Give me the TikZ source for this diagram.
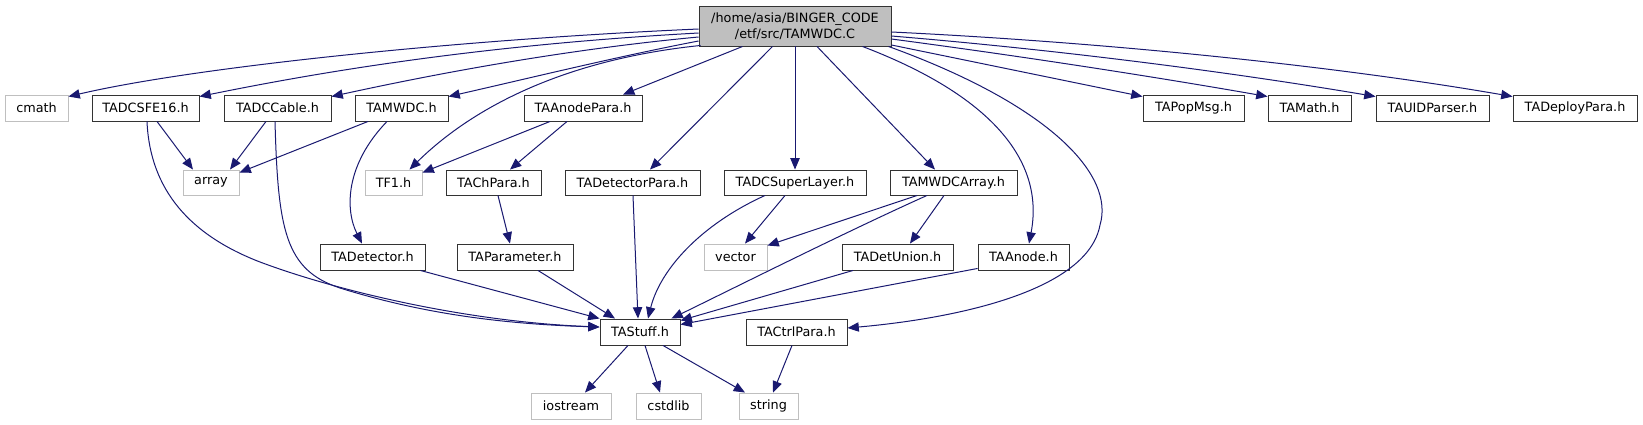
\documentclass[tikz,border=0pt]{standalone}
\usepackage{fontspec}
\setmainfont{DejaVu Sans}
\usetikzlibrary{arrows.meta,calc}
\definecolor{edgec}{HTML}{191970}
\definecolor{mainfill}{HTML}{BFBFBF}
\definecolor{lgray}{HTML}{BFBFBF}
\definecolor{bord}{HTML}{333333}
\begin{document}
\begin{tikzpicture}[x=0.75pt,y=-0.75pt,
  bx/.style n args={4}{inner sep=0pt,
    minimum width={(#3-#1)*0.75pt}, minimum height={(#4-#2)*0.75pt},
    at={({(#1+#3)/2},{(#2+#4)/2})}},
  hbox/.style={draw=bord, line width=0.7pt, fill=white, font=\fontsize{9.6}{12}\selectfont},
  gbox/.style={draw=lgray, line width=0.7pt, fill=white, font=\fontsize{9.6}{12}\selectfont},
  dep/.style={draw=edgec, line width=0.75pt, -{Triangle[length=8.5pt,width=7pt]}}
]
\useasboundingbox (0,0) rectangle (1643,425);

% nodes
\node[hbox, fill=mainfill, align=center, bx={699}{6}{891}{46}] (main) {/home/asia/BINGER\_CODE\\/etf/src/TAMWDC.C};
\node[gbox, bx={5}{95}{68}{121}] (cmath) {cmath};
\node[hbox, bx={92}{95}{199}{121}] (sfe) {TADCSFE16.h};
\node[hbox, bx={224}{95}{331}{121}] (cable) {TADCCable.h};
\node[hbox, bx={355}{95}{448}{121}] (mwdc) {TAMWDC.h};
\node[hbox, bx={524}{95}{642}{121}] (anodepara) {TAAnodePara.h};
\node[hbox, bx={1143}{95}{1244}{121}] (popmsg) {TAPopMsg.h};
\node[hbox, bx={1268}{95}{1351}{121}] (tamath) {TAMath.h};
\node[hbox, bx={1376}{95}{1489}{121}] (uid) {TAUIDParser.h};
\node[hbox, bx={1513}{95}{1637}{121}] (deploy) {TADeployPara.h};
\node[gbox, bx={183}{170}{239}{195}] (array) {array};
\node[gbox, bx={365}{170}{422}{195}] (tfone) {TF1.h};
\node[hbox, bx={446}{170}{541}{195}] (chpara) {TAChPara.h};
\node[hbox, bx={565}{170}{700}{195}] (detpara) {TADetectorPara.h};
\node[hbox, bx={724}{170}{866}{195}] (superlayer) {TADCSuperLayer.h};
\node[hbox, bx={890}{170}{1017}{195}] (mwdcarray) {TAMWDCArray.h};
\node[hbox, bx={320}{244}{425}{270}] (detector) {TADetector.h};
\node[hbox, bx={457}{244}{573}{270}] (parameter) {TAParameter.h};
\node[gbox, bx={704}{244}{767}{270}] (vector) {vector};
\node[hbox, bx={842}{244}{953}{270}] (detunion) {TADetUnion.h};
\node[hbox, bx={978}{244}{1069}{270}] (anode) {TAAnode.h};
\node[hbox, bx={600}{319}{680}{345}] (stuff) {TAStuff.h};
\node[hbox, bx={746}{319}{847}{345}] (ctrlpara) {TACtrlPara.h};
\node[gbox, bx={531}{393}{611}{419}] (iostream) {iostream};
\node[gbox, bx={636}{393}{701}{419}] (cstdlib) {cstdlib};
\node[gbox, bx={739}{393}{798}{419}] (string) {string};

% edges from main, left
\draw[dep] ($(main.west)+(0,3)$) .. controls (450,40) and (190,68) .. ($(cmath.north east)+(0,2)$);
\draw[dep] ($(main.west)+(0,7)$) .. controls (480,45) and (320,72) .. ($(sfe.north east)+(0,2)$);
\draw[dep] ($(main.west)+(0,11)$) .. controls (560,50) and (430,75) .. ($(cable.north east)+(0,2)$);
\draw[dep] ($(main.west)+(0,15)$) .. controls (620,56) and (530,78) .. ($(mwdc.north east)+(0,2)$);
\draw[dep] ($(main.south west)+(2,-1)$) .. controls (560,60) and (470,110) .. ($(tfone.north)+(16,0)$);
\draw[dep] ($(main.south west)+(44,0)$) -- ($(anodepara.north)+(40,0)$);
\draw[dep] ($(main.south west)+(74,0)$) -- ($(detpara.north)+(17.5,0)$);
\draw[dep] (main.south) -- (superlayer.north);
\draw[dep] ($(main.south)+(22,0)$) -- ($(mwdcarray.north)+(-18.5,0)$);
% edges from main, right
\draw[dep] ($(main.south east)+(-29,0)$) .. controls (990,95) and (1045,160) .. ($(anode.north)+(5.5,0)$);
\draw[dep] ($(main.south east)+(-3,0)$) .. controls (1050,105) and (1115,175) .. (1100,225)
   .. controls (1088,290) and (960,318) .. ($(ctrlpara.east)+(0,-4)$);
\draw[dep] ($(main.east)+(0,19)$) -- ($(popmsg.north west)+(0,2)$);
\draw[dep] ($(main.east)+(0,13)$) .. controls (1020,56) and (1150,76) .. ($(tamath.north west)+(0,2)$);
\draw[dep] ($(main.east)+(0,10)$) .. controls (1060,50) and (1230,72) .. ($(uid.north west)+(0,2)$);
\draw[dep] ($(main.east)+(0,6)$) .. controls (1100,42) and (1330,65) .. ($(deploy.north west)+(0,2)$);

% second level
\draw[dep] ($(sfe.south)+(11.5,0)$) -- ($(array.north)+(-18,0)$);
\draw[dep] ($(cable.south)+(-11.5,0)$) -- ($(array.north)+(19,0)$);
\draw[dep] ($(mwdc.south)+(-33.5,0)$) -- ($(array.north east)+(0,3)$);
\draw[dep] ($(mwdc.south)+(-14.5,0)$) .. controls (345,165) and (345,210) .. ($(detector.north)+(-10.5,0)$);
\draw[dep] ($(sfe.south)+(1.5,0)$) .. controls (150,190) and (190,235) .. (260,262)
   .. controls (340,292) and (470,322) .. ($(stuff.west)+(0,-5)$);
\draw[dep] ($(cable.south)+(-2.5,0)$) .. controls (278,230) and (285,270) .. (340,288)
   .. controls (420,313) and (500,324) .. ($(stuff.west)+(0,-5)$);
\draw[dep] ($(anodepara.south)+(-33,0)$) -- ($(tfone.north east)+(0,3)$);
\draw[dep] ($(anodepara.south)+(-16,0)$) -- ($(chpara.north)+(16.5,0)$);
\draw[dep] ($(chpara.south)+(4.5,0)$) -- ($(parameter.north)+(-5,0)$);
\draw[dep] ($(detpara.south)+(0.5,0)$) -- ($(stuff.north)+(-2,0)$);
\draw[dep] ($(superlayer.south)+(-10,0)$) -- ($(vector.north)+(9.5,0)$);
\draw[dep] ($(superlayer.south)+(-30,0)$) .. controls (700,225) and (660,270) .. ($(stuff.north)+(8,0)$);
\draw[dep] ($(mwdcarray.south)+(-36.5,0)$) -- ($(vector.north east)+(0,2)$);
\draw[dep] ($(mwdcarray.south)+(-26.5,0)$) .. controls (850,230) and (740,285) .. ($(stuff.north east)+(-9,0)$);
\draw[dep] ($(mwdcarray.south)+(-9.5,0)$) -- ($(detunion.north)+(12.5,0)$);

% third level
\draw[dep] ($(detector.south east)+(-5,0)$) -- (stuff.north west);
\draw[dep] ($(parameter.south)+(23,0)$) -- ($(stuff.north)+(-25,0)$);
\draw[dep] ($(detunion.south)+(-44.5,0)$) -- ($(stuff.north east)+(0,2)$);
\draw[dep] ($(anode.south west)+(0,-2)$) -- ($(stuff.north east)+(0,6)$);

% bottom
\draw[dep] ($(stuff.south)+(-12,0)$) -- ($(iostream.north)+(14,0)$);
\draw[dep] ($(stuff.south)+(5,0)$) -- ($(cstdlib.north)+(-8.5,0)$);
\draw[dep] ($(stuff.south)+(23,0)$) -- ($(string.north)+(-23.5,0)$);
\draw[dep] ($(ctrlpara.south)+(-4.5,0)$) -- ($(string.north)+(4.5,0)$);
\end{tikzpicture}
\end{document}
